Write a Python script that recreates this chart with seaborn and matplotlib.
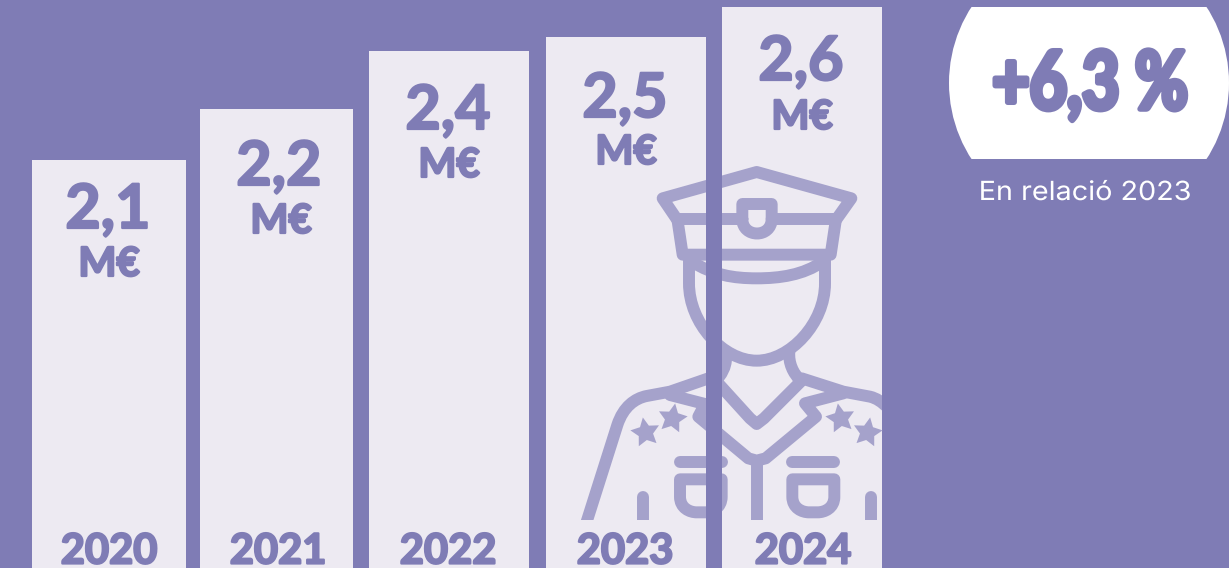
import matplotlib
matplotlib.use('Agg')
import matplotlib.pyplot as plt
import matplotlib.patheffects as pe
from matplotlib.patches import Circle, PathPatch, Rectangle
from matplotlib.path import Path
from matplotlib.transforms import Affine2D
import seaborn as sns

# data
years = ['2020', '2021', '2022', '2023', '2024']
value_labels = ['2,1', '2,2', '2,4', '2,5', '2,6']
bar_heights = [408, 459, 517, 531, 561]  # drawn heights, not proportional to the labels
change_label = '+6,3 %'
change_note = 'En relació 2023'
unit = 'M€'

BG = '#7F7CB5'
BAR = '#EDEAF2'
ICON = '#A5A2CB'
WIDTH, HEIGHT = 1229, 568

# layout, in picture pixels
bar_left = [32, 200, 369, 546, 722]
bar_right = [186, 353, 529, 706, 882]
value_y = [205, 162, 106, 94, 57]
value_x = [108, 279, 448, 625, 801]
unit_y = [261, 218, 162, 149, 114]
unit_x = [109, 281, 449, 626, 802]
year_x = [109, 278, 448, 625, 803]


class ScaledStroke(pe.Stroke):
    """Stroke that also stretches the text sideways around a centre, no condensed fonts here"""

    def __init__(self, sx, cx, **kwargs):
        super().__init__(**kwargs)
        self.stretch = Affine2D().translate(-cx, 0).scale(sx, 1).translate(cx, 0)

    def draw_path(self, renderer, gc, tpath, affine, rgbFace):
        super().draw_path(renderer, gc, tpath, affine + self.stretch, rgbFace)


sns.set_style('white')
plt.rcParams['font.family'] = ['Lato', 'DejaVu Sans']

fig = plt.figure(figsize=(WIDTH / 100, HEIGHT / 100), dpi=100, facecolor=BG)
ax = fig.add_axes([0, 0, 1, 1], facecolor=BG)

centres = [(l + r) / 2 for l, r in zip(bar_left, bar_right)]
sns.barplot(x=centres, y=bar_heights, native_scale=True, color=BAR, saturation=1, ax=ax)
for patch, left, right in zip(ax.patches, bar_left, bar_right):
    patch.set_x(left)
    patch.set_width(right - left)
    patch.set_edgecolor('none')
ax.set_xlim(0, WIDTH)
ax.set_ylim(0, HEIGHT)
ax.axis('off')


def px(x, y):
    return x, HEIGHT - y


def text(x, y, s, **kw):
    return ax.text(*px(x, y), s, ha='center', va='center_baseline', **kw)


# icon coordinates come from a 3x crop starting at (580, 150)
def icon_pt(p):
    return px(580 + p[0] / 3, 150 + p[1] / 3)


icon_clip = Rectangle((546, 48), 336, 520, transform=ax.transData)


def stroke(points, codes=None, closed=False):
    pts = [icon_pt(p) for p in points]
    if codes is None:
        codes = [Path.MOVETO] + [Path.LINETO] * (len(pts) - 1)
    if closed:
        pts.append(pts[0])
        codes = codes + [Path.CLOSEPOLY]
    patch = PathPatch(Path(pts, codes), fill=False, edgecolor=ICON, lw=8.6,
                      capstyle='round', joinstyle='round', zorder=3)
    ax.add_patch(patch)
    patch.set_clip_path(icon_clip)


M, L, C = Path.MOVETO, Path.LINETO, Path.CURVE4

# cap
stroke([(487, 207), (290, 207), (248, 145), (530, 66), (814, 145), (770, 207), (575, 207)])
stroke([(292, 207), (308, 314), (752, 314), (768, 207)])
stroke([(487, 207), (487, 162), (575, 162), (575, 207), (575, 265), (487, 265), (487, 207)],
       [M, L, L, L, C, C, C])
stroke([(335, 335), (400, 375), (460, 385), (530, 385), (600, 385), (670, 375), (728, 335)],
       [M, C, C, C, C, C, C])
# face
stroke([(327, 330), (327, 400), (327, 520), (430, 632), (530, 632),
        (630, 632), (735, 520), (735, 400), (735, 330)],
       [M, L, C, C, C, C, C, C, L])
# neck
stroke([(628, 605), (625, 640), (640, 670), (660, 690)], [M, C, C, C])
stroke([(438, 625), (438, 650), (425, 675), (405, 695)], [M, C, C, C])
# shoulders
stroke([(20, 1115), (112, 825), (130, 770), (165, 745), (200, 738),
        (270, 725), (400, 680)], [M, L, C, C, C, L, L])
stroke([(665, 685), (790, 725), (870, 740), (890, 745), (905, 755), (925, 775)],
       [M, L, L, C, C, C])
# collar and lapels
stroke([(410, 695), (510, 805), (530, 822), (552, 805), (662, 695)])
stroke([(270, 735), (375, 762), (355, 800), (505, 925), (530, 932), (557, 925),
        (708, 800), (675, 760), (790, 730)])
stroke([(531, 935), (531, 1120)])
# pockets
for a, b in [(300, 425), (637, 763)]:
    stroke([(a, 935), (b, 935)])
    stroke([(a, 988), (b, 988), (b, 1040), (b, 1075), (b - 30, 1087), (b - 50, 1087),
            (a + 50, 1087), (a + 30, 1087), (a, 1075), (a, 1040)],
           [M, L, L, C, C, C, L, C, C, C], closed=True)
for x in [189, 873]:
    stroke([(x, 1042), (x, 1120)])
# stars
for (sx, sy), angle in [((195, 845), 10), ((277, 805), -10), ((780, 805), 10), ((860, 845), -10)]:
    ax.plot(*icon_pt((sx, sy)), marker=(5, 1, angle), ms=22, mfc=ICON, mec='none', zorder=3)

# the icon stays inside the bars
ax.axvspan(bar_right[3], bar_left[4], color=BG, lw=0, zorder=4)

heavy = [pe.withStroke(linewidth=1.6, foreground=BG)]
for i, year in enumerate(years):
    text(value_x[i], value_y[i], value_labels[i], fontsize=44, fontweight='bold', color=BG,
         zorder=5, path_effects=heavy)
    text(unit_x[i], unit_y[i], unit, fontsize=29, fontweight='bold', color=BG,
         zorder=5, path_effects=heavy)
    text(year_x[i], 548, year, fontsize=30, fontweight='bold', color=BG,
         zorder=5, path_effects=heavy)

# change badge
badge = Circle(px(1089, 83), 140, fc='white', ec='none', zorder=2)
ax.add_patch(badge)
badge.set_clip_path(Rectangle(px(900, 159), 329, 152, transform=ax.transData))
text(1090, 79, change_label, fontsize=58, color=BG, fontweight='bold', zorder=5,
     path_effects=[ScaledStroke(0.8, 1090, linewidth=4, foreground=BG)])
text(1085, 190, change_note, fontsize=19, color='white', family=['Inter', 'DejaVu Sans'], zorder=5,
     path_effects=[ScaledStroke(1.09, 1085, linewidth=0, foreground='white')])

fig.savefig('out.png', dpi=100, facecolor=BG)
